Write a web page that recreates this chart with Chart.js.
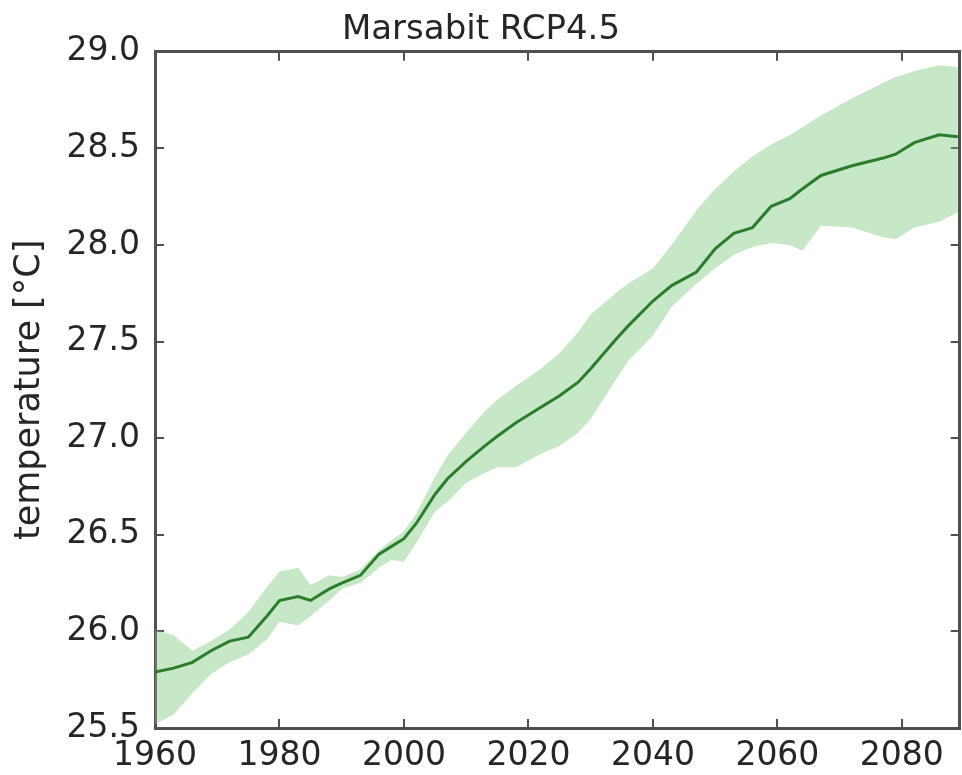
<!DOCTYPE html>
<html>
<head>
<meta charset="utf-8">
<title>Marsabit RCP4.5</title>
<script src="https://cdn.jsdelivr.net/npm/chart.js@4.4.1/dist/chart.umd.min.js"></script>
<style>
  html, body { margin: 0; padding: 0; background: #fff; }
  canvas { display: block; }
</style>
</head>
<body>
<canvas id="chart" width="962" height="775"></canvas>
<script>
// Values
const years = [1960, 1963, 1966, 1969, 1972, 1975, 1978, 1980, 1983, 1985, 1988, 1990, 1993, 1996, 1998,
  2000, 2002, 2005, 2007, 2010, 2013, 2015, 2018, 2022, 2025, 2028, 2030, 2034, 2036, 2040,
  2043, 2047, 2050, 2053, 2056, 2059, 2062, 2064, 2067, 2072, 2077, 2079, 2082, 2086, 2089];

const meanTemp = [25.79, 25.81, 25.84, 25.90, 25.95, 25.97, 26.08, 26.16, 26.18, 26.16, 26.22, 26.25, 26.29, 26.40, 26.44,
  26.48, 26.56, 26.71, 26.79, 26.88, 26.96, 27.01, 27.08, 27.16, 27.22, 27.29, 27.36, 27.51, 27.58, 27.71,
  27.79, 27.86, 27.98, 28.06, 28.09, 28.20, 28.24, 28.29, 28.36, 28.41, 28.45, 28.47, 28.53, 28.57, 28.56];

const upperTemp = [26.01, 25.98, 25.90, 25.95, 26.01, 26.10, 26.23, 26.31, 26.33, 26.24, 26.29, 26.28, 26.32, 26.42, 26.47,
  26.52, 26.61, 26.80, 26.91, 27.03, 27.14, 27.20, 27.27, 27.36, 27.44, 27.55, 27.64, 27.75, 27.80, 27.88,
  28.00, 28.18, 28.29, 28.38, 28.46, 28.52, 28.57, 28.61, 28.67, 28.76, 28.84, 28.87, 28.90, 28.93, 28.92];

const lowerTemp = [25.52, 25.57, 25.68, 25.78, 25.84, 25.88, 25.96, 26.05, 26.03, 26.08, 26.16, 26.22, 26.25, 26.33, 26.37,
  26.36, 26.46, 26.62, 26.67, 26.77, 26.82, 26.85, 26.85, 26.92, 26.96, 27.03, 27.10, 27.30, 27.40, 27.53,
  27.68, 27.80, 27.88, 27.95, 27.99, 28.01, 28.00, 27.97, 28.10, 28.09, 28.04, 28.03, 28.09, 28.12, 28.17];

const xTicks = [1960, 1980, 2000, 2020, 2040, 2060, 2080];
const yTicks = [25.5, 26.0, 26.5, 27.0, 27.5, 28.0, 28.5, 29.0];

const FONT = "'DejaVu Sans', 'Liberation Sans', sans-serif";
const AXIS_COLOR = "#505050";
const TEXT_COLOR = "#262626";

const toPoints = vals => vals.map((v, i) => ({ x: years[i], y: v }));

// axes without labels, only the border and inward tick marks
function mirrorAxis(position, ticks, min, max) {
  return {
    type: "linear",
    position: position,
    min: min,
    max: max,
    afterBuildTicks: s => { s.ticks = ticks.map(v => ({ value: v })); },
    afterFit: s => {
      if (position === "top") s.height = 0;
      else s.width = 1;
    },
    ticks: { display: false },
    grid: { drawOnChartArea: false, tickLength: -9, color: AXIS_COLOR, lineWidth: 2 },
    border: { display: true, color: AXIS_COLOR, width: 3 }
  };
}

new Chart(document.getElementById("chart"), {
  type: "line",
  data: {
    datasets: [
      {
        label: "mean",
        data: toPoints(meanTemp),
        borderColor: "#2b7d2b",
        borderWidth: 3,
        pointRadius: 0,
        fill: false
      },
      {
        label: "upper",
        data: toPoints(upperTemp),
        borderWidth: 0,
        pointRadius: 0,
        backgroundColor: "rgba(120, 200, 120, 0.42)",
        fill: "+1"
      },
      {
        label: "lower",
        data: toPoints(lowerTemp),
        borderWidth: 0,
        pointRadius: 0,
        fill: false
      }
    ]
  },
  options: {
    responsive: false,
    animation: false,
    devicePixelRatio: 1,
    layout: { padding: 0 },
    plugins: {
      legend: { display: false },
      tooltip: { enabled: false },
      title: {
        display: true,
        text: "Marsabit RCP4.5",
        color: TEXT_COLOR,
        font: { family: FONT, size: 34, weight: "normal", lineHeight: 1.2 },
        padding: { top: 10, bottom: 1 }
      }
    },
    scales: {
      x: {
        type: "linear",
        min: 1960,
        max: 2089.3,
        afterBuildTicks: s => { s.ticks = xTicks.map(v => ({ value: v })); },
        afterFit: s => { s.height = 47; },
        ticks: {
          color: TEXT_COLOR,
          font: { family: FONT, size: 33 },
          padding: 18,
          maxRotation: 0,
          callback: v => String(v)
        },
        grid: { drawOnChartArea: false, tickLength: -9, color: AXIS_COLOR, lineWidth: 2 },
        border: { display: true, color: AXIS_COLOR, width: 3 }
      },
      y: {
        type: "linear",
        min: 25.5,
        max: 29.0,
        afterBuildTicks: s => { s.ticks = yTicks.map(v => ({ value: v })); },
        afterFit: s => { s.width = 155; },
        title: {
          display: true,
          text: "temperature [°C]",
          color: TEXT_COLOR,
          font: { family: FONT, size: 35, lineHeight: 1.2 },
          padding: { top: 9, bottom: 0 }
        },
        ticks: {
          color: TEXT_COLOR,
          font: { family: FONT, size: 33 },
          padding: 24,
          callback: v => Number(v).toFixed(1)
        },
        grid: { drawOnChartArea: false, tickLength: -9, color: AXIS_COLOR, lineWidth: 2 },
        border: { display: true, color: AXIS_COLOR, width: 3 }
      },
      xTop: mirrorAxis("top", xTicks, 1960, 2089.3),
      yRight: mirrorAxis("right", yTicks, 25.5, 29.0)
    }
  }
});
</script>
</body>
</html>
